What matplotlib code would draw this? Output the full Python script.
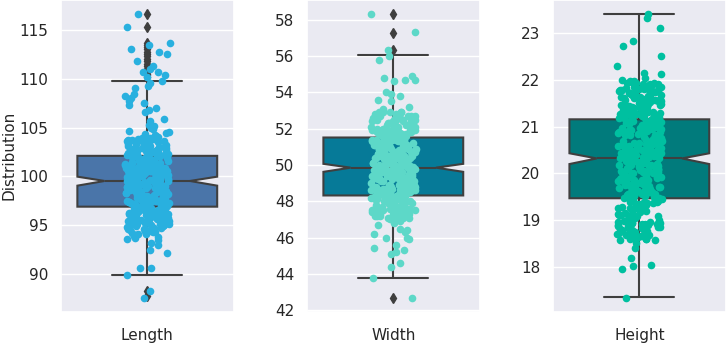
import numpy as np
import matplotlib
matplotlib.use("Agg")
import matplotlib.pyplot as plt
import seaborn as sns
from matplotlib.path import Path
from matplotlib.ticker import MultipleLocator

categories = ["Length", "Width", "Height"]
box_colors = ["#4a75a9", "#067a98", "#017b7c"]
point_colors = ["#29b0df", "#5dd8c8", "#00c0a0"]
line_color = "#3f3f3f"

# box statistics
length_box = dict(q1=96.9, med=99.53, q3=102.1, whislo=89.87, whishi=109.8, cilo=99.05, cihi=99.97)
width_box = dict(q1=48.32, med=49.85, q3=51.51, whislo=43.8, whishi=56.04, cilo=49.62, cihi=50.06)
height_box = dict(q1=19.47, med=20.32, q3=21.155, whislo=17.37, whishi=23.4, cilo=20.2, cihi=20.43)

length_fliers = [110.2, 110.4, 110.5, 110.7, 110.9, 111.0, 111.3, 111.5, 111.8, 112.0, 112.3,
                 112.5, 112.7, 113.0, 113.2, 113.4, 113.7, 115.3, 116.6, 88.3, 87.8]
width_fliers = [56.3, 57.25, 58.3, 42.7]
height_fliers = []

length_points = [
    99.6, 101.2, 96.4, 103.1, 97.8, 100.4, 95.2, 102.7, 98.9, 94.6, 100.9, 97.1, 103.8, 99.2, 96.0,
    101.7, 98.3, 95.7, 102.2, 100.1, 94.1, 97.5, 103.4, 99.8, 96.8, 101.0, 98.6, 95.4, 102.9, 100.6,
    97.3, 104.2, 99.0, 96.2, 101.5, 94.9, 98.1, 102.4, 100.3, 95.9, 97.9, 103.6, 99.4, 96.6, 101.9,
    98.7, 95.0, 102.0, 100.8, 97.0, 93.9, 99.9, 103.0, 96.3, 101.3, 98.4, 95.6, 104.0, 99.1, 97.6,
    100.0, 102.6, 96.9, 94.4, 101.6, 98.0, 103.3, 95.3, 99.5, 97.2, 100.7, 96.1, 102.1, 98.8, 94.8,
    101.1, 99.3, 95.8, 103.7, 97.4, 100.2, 96.5, 102.5, 98.2, 94.3, 101.8, 99.7, 95.1, 103.2, 97.7,
    99.0, 96.7, 100.5, 102.8, 94.7, 98.5, 101.4, 95.5, 103.9, 97.0, 100.9, 96.0, 99.6, 102.3, 98.0,
    95.2, 101.0, 97.8, 104.4, 99.2, 96.4, 100.3, 93.7, 102.0, 98.6, 95.9, 101.7, 97.3, 103.5, 99.9,
    96.8, 100.6, 94.5, 102.6, 98.3, 101.2, 95.7, 99.4, 103.1, 97.5, 100.0, 96.2, 101.9, 98.9, 94.2,
    102.2, 99.8, 97.1, 100.8, 95.4, 103.6, 98.1, 96.6, 101.5, 99.1, 94.9, 102.7, 97.9, 100.4, 96.3,
    98.4, 101.3, 95.0, 99.5, 103.0, 96.9, 100.1, 97.6, 102.4, 94.0, 98.7, 101.6, 95.8, 99.3, 103.8,
    97.2, 100.2, 96.1, 102.9, 98.8, 95.3, 101.1, 99.7, 94.6, 103.4, 97.4, 100.7, 96.5, 102.1, 98.5,
    99.6, 95.6, 101.8, 97.0, 104.1, 98.2, 100.9, 94.8, 102.5, 96.7, 99.0, 101.4, 95.1, 103.2, 97.7,
    100.5, 96.0, 98.6, 102.3, 94.4, 99.9, 101.0, 97.3, 103.7, 95.5, 100.3, 98.0, 96.8, 101.7, 99.2,
    94.3, 102.8, 97.8, 100.0, 95.9, 99.4, 103.3, 96.4, 101.2, 98.3, 94.1, 102.0, 99.8, 97.1, 100.6,
    96.2, 101.5, 98.9, 95.2, 103.9, 97.5, 100.8, 99.1, 94.7, 102.6, 96.9, 101.9, 98.1, 95.7, 100.1,
    103.1, 97.9, 99.5, 96.6, 101.3, 94.9, 98.4, 102.4, 100.4, 95.4, 99.7, 97.6, 103.5, 96.1, 101.6,
    98.7, 100.2, 95.0, 102.2, 97.2, 99.3, 104.3, 96.3, 100.7, 98.5, 94.5, 101.1, 97.4, 102.9, 99.0,
    95.8, 100.9, 98.2, 103.6, 96.5, 101.8, 99.6, 94.2, 102.1, 97.0, 100.0, 95.3, 98.8, 101.4, 96.7,
    99.9, 102.7, 97.7, 95.6, 100.5, 98.6, 103.0, 96.0, 101.0, 99.2, 94.6, 102.5, 97.3, 100.3, 95.1,
    104.5, 104.6, 104.8, 105.0, 105.2, 105.3, 105.7, 105.9, 106.6, 106.8, 107.0, 107.3, 107.5,
    107.7, 108.0, 108.2, 108.4, 109.0, 109.3, 109.6, 109.8, 110.2, 110.4, 110.7, 110.7, 111.0,
    111.3, 111.8, 112.5, 112.7, 113.0, 113.4, 113.7, 115.3, 116.6,
    93.8, 93.6, 93.5, 93.2, 93.0, 92.5, 92.2, 90.6, 90.6, 89.9, 88.3, 87.6,
]

width_points = [
    49.8, 51.2, 48.1, 52.6, 50.4, 47.5, 49.1, 51.8, 50.0, 48.7, 52.1, 47.9, 50.9, 49.4, 51.5,
    48.4, 50.6, 52.9, 49.6, 47.2, 51.0, 50.2, 48.9, 52.4, 49.0, 51.7, 47.7, 50.8, 48.2, 52.0,
    50.3, 47.4, 51.3, 49.2, 52.7, 48.6, 50.7, 49.9, 47.1, 51.9, 48.0, 50.1, 52.3, 49.5, 51.1,
    47.8, 52.8, 49.7, 50.5, 48.3, 51.6, 47.3, 50.0, 52.2, 48.8, 49.3, 51.4, 47.6, 50.9, 48.5,
    51.2, 49.0, 52.5, 47.9, 50.4, 48.1, 51.8, 49.6, 47.0, 52.0, 50.2, 48.7, 51.0, 49.8, 52.9,
    48.9, 50.6, 47.5, 51.5, 49.4, 52.4, 48.2, 50.8, 47.7, 51.3, 49.1, 52.6, 50.3, 48.4, 51.7,
    47.2, 50.1, 52.1, 49.2, 51.9, 48.0, 50.7, 49.9, 52.8, 47.4, 51.1, 48.6, 50.5, 49.5, 52.3,
    50.0, 48.8, 51.6, 47.8, 49.7, 52.7, 48.3, 51.4, 50.9, 47.1, 49.3, 52.2, 48.5, 50.4, 51.0,
    49.0, 52.0, 47.6, 50.2, 48.9, 51.2, 49.8, 47.3, 52.5, 50.6, 48.1, 51.8, 49.4, 47.9, 50.8,
    51.5, 48.7, 50.3, 52.9, 49.1, 47.5, 51.3, 48.4, 50.0, 52.4, 49.6, 47.0, 51.9, 48.2, 50.7,
    48.6, 51.1, 49.9, 47.7, 52.6, 50.5, 48.0, 51.6, 49.2, 52.1, 47.2, 50.1, 48.8, 51.4, 49.5,
    52.3, 49.7, 47.4, 50.9, 48.5, 51.0, 49.3, 52.8, 47.8, 50.4, 48.9, 51.7, 50.2, 47.6, 49.0,
    50.6, 48.3, 51.9, 49.8, 52.2, 47.1, 50.0, 48.7, 51.2, 49.4, 52.7, 48.1, 50.8, 47.9, 51.5,
    49.6, 52.4, 48.4, 50.3, 47.3, 51.8, 49.1, 50.5, 48.6, 52.0, 47.5, 51.3, 49.9, 48.2, 50.1,
    51.6, 47.8, 50.7, 49.2, 52.5, 48.8, 51.1, 47.0, 50.2, 49.7, 52.9, 48.0, 50.9, 49.5, 51.4,
    48.5, 51.0, 49.3, 47.6, 52.1, 50.4, 48.9, 51.7, 47.2, 50.6, 49.0, 52.6, 48.3, 50.0, 51.9,
    47.9, 50.8, 52.3, 49.8, 48.1, 51.2, 47.4, 50.5, 49.4, 52.8, 48.7, 51.5, 50.1, 47.7, 49.6,
    52.0, 49.1, 50.7, 48.4, 51.8, 47.1, 50.3, 49.9, 52.4, 48.6, 51.3, 47.5, 50.9, 49.2, 48.0,
    50.4, 47.3, 51.6, 49.5, 52.7, 48.2, 50.0, 48.8, 51.0, 47.8, 52.2, 49.7, 50.6, 48.5, 51.4,
    49.3, 52.5, 48.9, 50.2, 47.6, 51.7, 49.0, 52.9, 48.3, 50.8, 47.2, 51.1, 49.8, 50.5, 48.7,
    53.1, 53.2, 53.5, 53.6, 53.8, 53.9, 54.0, 54.6, 54.7, 54.7, 54.8, 54.9, 55.8, 56.0, 56.3,
    57.3, 58.3,
    46.9, 46.8, 46.7, 46.5, 46.4, 46.3, 46.2, 46.0, 46.0, 45.9, 45.6, 45.4, 45.3, 45.2, 45.1,
    44.6, 44.4, 43.8, 42.7,
]

height_points = [
    20.31, 21.45, 19.12, 21.88, 20.07, 19.63, 21.02, 18.74, 20.66, 21.71, 19.38, 20.49, 18.95, 21.27, 19.85,
    20.92, 19.04, 21.56, 20.18, 18.62, 21.93, 19.71, 20.58, 21.14, 19.27, 20.83, 18.88, 21.39, 20.01, 19.52,
    21.67, 20.24, 19.09, 21.01, 18.79, 20.72, 21.82, 19.44, 20.37, 21.23, 19.91, 18.57, 20.95, 21.49, 19.66,
    20.12, 21.76, 19.31, 20.61, 18.99, 21.35, 20.44, 19.78, 21.97, 20.05, 18.69, 21.10, 19.58, 20.87, 21.61,
    19.17, 20.53, 21.84, 19.96, 20.28, 18.83, 21.52, 20.78, 19.40, 21.19, 20.15, 18.66, 21.73, 19.69, 20.41,
    21.30, 19.23, 20.69, 21.91, 18.91, 20.34, 21.06, 19.55, 20.97, 21.42, 19.81, 20.09, 18.72, 21.64, 20.56,
    19.36, 21.17, 20.22, 18.81, 21.80, 19.99, 20.75, 21.26, 19.14, 20.46, 21.58, 18.59, 20.88, 19.74, 21.95,
    20.63, 19.47, 21.37, 20.03, 18.96, 21.69, 20.51, 19.28, 21.12, 20.80, 19.60, 21.85, 18.77, 20.27, 21.47,
    19.88, 21.04, 20.39, 18.68, 21.59, 19.21, 20.91, 21.78, 19.51, 20.14, 21.33, 18.86, 20.70, 19.94, 21.21,
    20.47, 21.90, 19.07, 20.82, 21.40, 19.64, 20.19, 18.73, 21.66, 20.59, 19.33, 21.08, 20.00, 18.94, 21.53,
    19.76, 20.35, 21.74, 19.42, 20.96, 21.29, 18.61, 20.67, 21.86, 19.19, 20.25, 21.55, 19.86, 20.43, 18.80,
    21.13, 20.08, 19.57, 21.63, 18.89, 20.74, 21.98, 19.30, 20.52, 21.36, 19.70, 20.89, 18.70, 21.18, 20.30,
    19.93, 21.50, 20.16, 18.76, 21.81, 19.49, 20.62, 21.25, 19.10, 20.99, 21.70, 18.98, 20.40, 19.67, 21.44,
    20.86, 19.26, 21.09, 20.55, 18.64, 21.92, 19.80, 20.21, 21.57, 19.39, 20.77, 21.32, 18.92, 20.11, 21.62,
    19.61, 20.94, 21.41, 19.03, 20.33, 21.77, 18.85, 20.60, 21.20, 19.89, 20.04, 21.54, 19.45, 20.71, 18.67,
    21.87, 20.26, 19.54, 21.00, 18.82, 20.48, 21.68, 19.16, 20.84, 21.34, 19.73, 20.17, 18.58, 21.46, 20.64,
    19.34, 21.22, 20.42, 18.90, 21.75, 19.98, 20.57, 21.11, 19.24, 20.90, 21.60, 18.75, 20.29, 19.82, 21.38,
    20.73, 19.11, 21.83, 20.06, 18.97, 21.28, 20.50, 19.59, 21.94, 20.13, 19.37, 21.05, 18.63, 20.81, 21.51,
    19.50, 20.98, 21.15, 19.79, 20.36, 21.72, 18.84, 20.68, 21.43, 19.20, 20.02, 21.65, 19.92, 20.45, 18.71,
    21.24, 20.20, 19.65, 21.79, 18.93, 20.54, 21.07, 19.41, 20.85, 21.48, 19.06, 20.32, 21.89, 19.75, 20.10,
    20.65, 21.31, 19.29, 20.93, 18.78, 21.58, 20.38, 19.90, 21.16, 20.76, 19.56, 21.99, 18.87, 20.23, 21.39,
    19.83, 20.60, 21.71, 19.13, 20.44, 21.03, 18.60, 20.79, 21.85, 19.48, 20.27, 21.26, 19.68, 20.97, 21.53,
    20.40, 19.22, 21.64, 20.09, 18.81, 21.19, 20.52, 19.77, 21.90, 20.16, 19.35, 21.42, 18.94, 20.70, 21.08,
    21.56, 19.87, 20.34, 21.27, 19.01, 20.88, 21.75, 19.52, 20.05, 21.36, 18.69, 20.63, 19.95, 21.12, 20.47,
    22.03, 22.12, 22.15, 22.30, 22.50, 22.72, 22.82, 23.10, 23.32, 23.40,
    18.52, 18.40, 18.20, 18.05, 18.02, 17.97, 17.35,
]

boxes = [length_box, width_box, height_box]
fliers = [length_fliers, width_fliers, height_fliers]
points = [length_points, width_points, height_points]
tick_steps = [5, 2, 1]

sns.set_theme(style="darkgrid")
plt.rcParams["font.family"] = ["DejaVu Sans"]
np.random.seed(3)

fig, axes = plt.subplots(1, 3, figsize=(7.26, 3.47), dpi=100)
fig.subplots_adjust(left=0.084, right=0.9995, bottom=0.1017, top=1.0, wspace=0.4255)

box_w = 0.81
for i, ax in enumerate(axes):
    stats = dict(boxes[i], fliers=fliers[i])
    line_kw = dict(color=line_color, linewidth=1.5)
    out = ax.bxp([stats], positions=[0], widths=box_w, shownotches=True,
                 patch_artist=True, manage_ticks=False,
                 boxprops=dict(facecolor=box_colors[i], edgecolor=line_color, linewidth=1.5),
                 whiskerprops=line_kw, capprops=line_kw, medianprops=line_kw,
                 flierprops=dict(marker="d", markerfacecolor=line_color,
                                 markeredgecolor=line_color, markersize=5.5))
    # widen the notch waist a little, as in the original
    med = stats["med"]
    waist = 0.305 * box_w
    box = out["boxes"][0]
    verts = box.get_path().vertices.copy()
    on_med = np.isclose(verts[:, 1], med)
    verts[on_med, 0] = np.sign(verts[on_med, 0]) * waist
    box.set_path(Path(verts, box.get_path().codes))
    out["medians"][0].set_xdata([-waist, waist])

    sns.stripplot(x=[categories[i]] * len(points[i]), y=points[i], ax=ax,
                  color=point_colors[i], size=5.5, jitter=0.13, zorder=3)
    ax.set_xlim(-0.5, 0.5)
    ax.yaxis.set_major_locator(MultipleLocator(tick_steps[i]))
    ax.tick_params(axis="y", labelsize=11, length=0, pad=9)
    ax.tick_params(axis="x", labelsize=11, length=0, pad=12)
    ax.set_xlabel("")
    ax.set_ylabel("")
    ax.xaxis.grid(False)

axes[0].set_ylabel("Distribution", fontsize=11, labelpad=2)

fig.savefig("out.png", dpi=100)
